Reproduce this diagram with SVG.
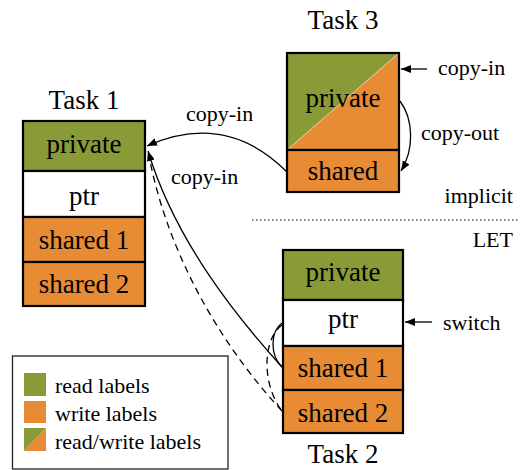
<svg xmlns="http://www.w3.org/2000/svg" width="520" height="470" viewBox="0 0 520 470">
<defs>
<style>
.big{font-family:"Liberation Serif","Times New Roman",serif;font-size:27px;fill:#000;text-anchor:middle}
.sm{font-family:"Liberation Serif","Times New Roman",serif;font-size:22px;fill:#000}
.cell{stroke:#000;stroke-width:2.2}
.g{fill:#899b37}
.o{fill:#e88b35}
.w{fill:#fff}
.ln{fill:none;stroke:#000;stroke-width:1.3}
.dash{fill:none;stroke:#000;stroke-width:1.3;stroke-dasharray:7 5}
</style>
<marker id="ah" viewBox="0 0 10 8" refX="10" refY="4" markerWidth="10" markerHeight="8" markerUnits="userSpaceOnUse" orient="auto">
<path d="M0,0 L10,4 L0,8 Z" fill="#000"/>
</marker>
</defs>
<rect width="520" height="470" fill="#fff"/>

<g id="task1">
<text class="big" x="84" y="109">Task 1</text>
<rect class="cell g" x="23" y="121" width="122" height="50"/>
<rect class="cell w" x="23" y="171" width="122" height="46"/>
<rect class="cell o" x="23" y="217" width="122" height="45"/>
<rect class="cell o" x="23" y="262" width="122" height="44"/>
<text class="big" x="84" y="153">private</text>
<text class="big" x="84" y="205">ptr</text>
<text class="big" x="84" y="249">shared 1</text>
<text class="big" x="84" y="293">shared 2</text>
</g>

<g id="task3">
<text class="big" x="343" y="29">Task 3</text>
<polygon points="287,53 399,53 287,150" fill="#899b37"/>
<polygon points="399,53 399,150 287,150" fill="#e88b35"/>
<line x1="287" y1="150" x2="399" y2="53" stroke="#f2d6a8" stroke-width="0.8"/>
<rect x="287" y="53" width="112" height="97" fill="none" stroke="#000" stroke-width="2.2"/>
<rect class="cell o" x="287" y="150" width="112" height="42"/>
<text class="big" x="343" y="107">private</text>
<text class="big" x="343" y="180">shared</text>
</g>

<g id="task2">
<rect class="cell g" x="283" y="250" width="120" height="50"/>
<rect class="cell w" x="283" y="300" width="120" height="46"/>
<rect class="cell o" x="283" y="346" width="120" height="44"/>
<rect class="cell o" x="283" y="390" width="120" height="43"/>
<text class="big" x="343" y="281">private</text>
<text class="big" x="343" y="328">ptr</text>
<text class="big" x="343" y="377">shared 1</text>
<text class="big" x="343" y="422">shared 2</text>
<text class="big" x="343" y="463">Task 2</text>
</g>

<g id="separator">
<line x1="252" y1="220" x2="520" y2="220" stroke="#000" stroke-width="1" stroke-dasharray="1.5 2.5"/>
<text class="sm" x="513" y="203" text-anchor="end">implicit</text>
<text class="sm" x="513" y="247" text-anchor="end">LET</text>
</g>

<g id="legend">
<rect x="12.5" y="356" width="215.5" height="113" fill="#fff" stroke="#222" stroke-width="1.3"/>
<rect x="24" y="373" width="22" height="23" fill="#899b37"/>
<rect x="24" y="401" width="22" height="22" fill="#e88b35"/>
<polygon points="24,428 46,428 24,451" fill="#899b37"/>
<polygon points="46,428 46,451 24,451" fill="#e88b35"/>
<text class="sm" x="55" y="393">read labels</text>
<text class="sm" x="55" y="421">write labels</text>
<text class="sm" x="55" y="449">read/write labels</text>
</g>

<g id="connectors">
<path class="ln" d="M287,172 C255,140 210,118 147,146" marker-end="url(#ah)"/>
<path class="ln" d="M282,367 C235,315 175,240 148,151" marker-end="url(#ah)"/>
<path class="dash" d="M282,411 C230,355 170,265 149,156"/>
<path class="ln" d="M282,323 C270,332 270,355 282,367"/>
<path class="dash" d="M282,325 C262,340 262,385 282,411"/>
<path class="ln" d="M400,101 C414,120 414,150 401,171" marker-end="url(#ah)"/>
<line class="ln" x1="427" y1="69" x2="401" y2="69" marker-end="url(#ah)"/>
<line class="ln" x1="432" y1="322" x2="405" y2="322" marker-end="url(#ah)"/>
<text class="sm" x="186" y="121">copy-in</text>
<text class="sm" x="171" y="184">copy-in</text>
<text class="sm" x="438" y="75">copy-in</text>
<text class="sm" x="421" y="140">copy-out</text>
<text class="sm" x="443" y="330">switch</text>
</g>
</svg>
